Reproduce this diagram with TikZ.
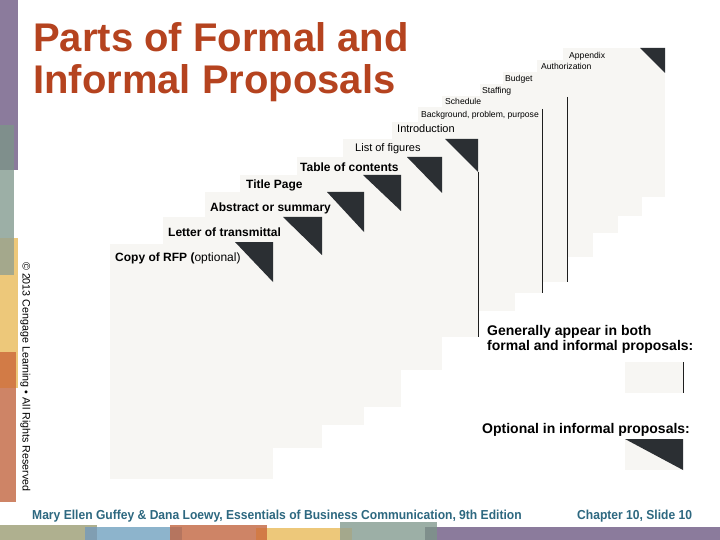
\documentclass[tikz,border=0pt]{standalone}
\usepackage{fontspec}
\setmainfont{Liberation Sans}
\newfontfamily\footfont{Liberation Sans}[FakeStretch=0.93]
\usepackage{tikz}

\definecolor{pagefill}{RGB}{247,246,243}
\definecolor{cornerdark}{RGB}{43,47,51}
\definecolor{rimdark}{RGB}{30,30,30}
\definecolor{titlerust}{RGB}{181,67,31}
\definecolor{footteal}{RGB}{45,104,128}
\definecolor{stpurple}{RGB}{139,123,156}
\definecolor{stgraydark}{RGB}{127,143,140}
\definecolor{stteal}{RGB}{156,175,166}
\definecolor{stolive}{RGB}{175,176,143}
\definecolor{stolivegray}{RGB}{164,168,140}
\definecolor{styellow}{RGB}{237,200,122}
\definecolor{storange}{RGB}{210,123,70}
\definecolor{stsalmon}{RGB}{206,132,102}
\definecolor{stbrown}{RGB}{181,117,95}
\definecolor{stblue}{RGB}{141,180,204}
\definecolor{stbluegray}{RGB}{128,158,178}

\begin{document}
\begin{tikzpicture}[x=1pt,y=1pt,
  sheet/.style={fill=pagefill},
  corner/.style={fill=cornerdark},
  rim/.style={draw=rimdark,line width=0.9pt},
  biglbl/.style={anchor=base west,font=\fontsize{12}{14}\selectfont\bfseries},
  midlbl/.style={anchor=base west,font=\fontsize{11}{13}\selectfont},
  tinylbl/.style={anchor=base west,font=\fontsize{8.6}{10}\selectfont},
  legendtxt/.style={anchor=base west,align=left,font=\fontsize{14}{15.5}\selectfont\bfseries}]
  \tikzstyle{every node}+=[inner sep=0pt]
  \useasboundingbox (0,0) rectangle (720,-540);
  \fill [white] (0,0) rectangle (720,-540);
  \fill [stpurple] (0,0) rectangle (18,-170);
  \fill [stgraydark] (0,-125) rectangle (14,-170);
  \fill [stteal] (0,-170) rectangle (14,-238);
  \fill [styellow] (0,-238) rectangle (18,-388);
  \fill [stolivegray] (0,-238) rectangle (14,-275);
  \fill [stsalmon] (0,-352) rectangle (15.7,-502);
  \fill [storange] (0,-352) rectangle (15.7,-388);
  \fill [stolive] (0,-525) rectangle (97,-540);
  \fill [stblue] (85,-527) rectangle (182,-540);
  \fill [stsalmon] (170,-525) rectangle (267,-540);
  \fill [styellow] (256,-528) rectangle (352,-540);
  \fill [stteal] (340,-522) rectangle (437,-540);
  \fill [stpurple] (425,-527) rectangle (720,-540);
  \fill [stbluegray] (85,-527) rectangle (97,-540);
  \fill [stbrown] (170,-527) rectangle (182,-540);
  \fill [storange] (256,-528) rectangle (267,-540);
  \fill [stolivegray] (340,-528) rectangle (352,-540);
  \fill [stgraydark] (425,-527) rectangle (437,-540);
  \draw (33,-22) node [anchor=north west,align=left,text=titlerust,font=\fontsize{40}{42.5}\selectfont\bfseries] (ttl) {Parts of Formal and\\Informal Proposals};
  \draw (22.7,-262) node [anchor=base west,rotate=-90,font=\fontsize{10.7}{12}\selectfont] (copyr) {© 2013 Cengage Learning • All Rights Reserved};
  \fill [sheet] (563,-48) rectangle (665,-197);
  \fill [corner] (640,-48) -- (665,-48) -- (665,-73) -- cycle;
  \draw (569,-58.5) node [tinylbl] (lblappx) {Appendix};
  \fill [sheet] (537,-60) rectangle (642,-216);
  \draw (541,-70) node [tinylbl] (lblauth) {Authorization};
  \fill [sheet] (503,-72) rectangle (618,-233);
  \draw (505,-81.5) node [tinylbl] (lblbudget) {Budget};
  \fill [sheet] (480,-84) rectangle (593,-257);
  \draw (482,-94) node [tinylbl] (lblstaff) {Staffing};
  \fill [sheet] (442,-96) rectangle (567,-282);
  \draw [rim] (567,-97) -- (567,-282);
  \draw (445,-105) node [tinylbl] (lblsched) {Schedule};
  \fill [sheet] (418,-107) rectangle (542,-293);
  \draw [rim] (542,-109) -- (542,-293);
  \draw (421,-117.5) node [tinylbl] (lblbackgr) {Background, problem, purpose};
  \fill [sheet] (392,-122) rectangle (515,-311);
  \draw (397,-133) node [midlbl] (lblintro) {Introduction};
  \fill [sheet] (343,-139) rectangle (478,-337);
  \fill [corner] (445,-139) -- (478,-139) -- (478,-172) -- cycle;
  \draw [rim] (478,-172) -- (478,-337);
  \draw (355,-152) node [midlbl] (lblfigs) {List of figures};
  \fill [sheet] (297,-157) rectangle (442,-370);
  \fill [corner] (407,-157) -- (442,-157) -- (442,-193) -- cycle;
  \draw (300,-171.5) node [biglbl] (lbltoc) {Table of contents};
  \fill [sheet] (240,-175) rectangle (401,-407);
  \fill [corner] (363,-175) -- (401,-175) -- (401,-211) -- cycle;
  \draw (246,-189) node [biglbl] (lbltitle) {Title Page};
  \fill [sheet] (205,-192) rectangle (364,-425);
  \fill [corner] (327,-192) -- (364,-192) -- (364,-232) -- cycle;
  \draw (210,-211.5) node [biglbl] (lblabstr) {Abstract or summary};
  \fill [sheet] (163,-217) rectangle (322,-448);
  \fill [corner] (283,-217) -- (322,-217) -- (322,-255) -- cycle;
  \draw (168,-236.5) node [biglbl] (lblletter) {Letter of transmittal};
  \fill [sheet] (110,-244) rectangle (273,-479);
  \fill [corner] (235,-242) -- (273,-242) -- (273,-282) -- cycle;
  \draw (115,-261) node [biglbl] (lblrfp) {Copy of RFP (\mdseries optional)};
  \draw (487,-350.5) node [legendtxt] (lgdboth) {Generally appear in both\\formal and informal proposals:};
  \fill [sheet] (625,-362) rectangle (683,-393);
  \draw [rim] (683,-362) -- (683,-393);
  \draw (482,-433) node [legendtxt] (lgdopt) {Optional in informal proposals:};
  \fill [sheet] (625,-439) rectangle (683,-470);
  \fill [corner] (625,-439) -- (683,-439) -- (683,-470) -- cycle;
  \draw (32,-519) node [anchor=base west,text=footteal,font=\footfont\fontsize{13}{15}\selectfont\bfseries] (ftbook) {Mary Ellen Guffey \& Dana Loewy, Essentials of Business Communication, 9th Edition};
  \draw (577,-519) node [anchor=base west,text=footteal,font=\footfont\fontsize{13}{15}\selectfont\bfseries] (ftslide) {Chapter 10, Slide 10};
\end{tikzpicture}
\end{document}
